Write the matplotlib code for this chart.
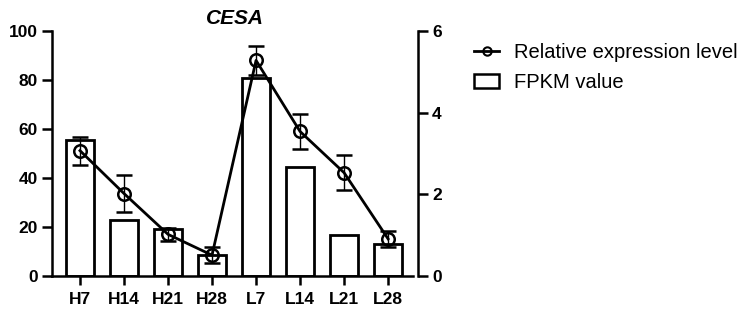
import matplotlib
matplotlib.use("Agg")
import matplotlib.pyplot as plt
from matplotlib.lines import Line2D
from matplotlib.patches import Patch
import numpy as np

plt.rcParams['font.family'] = ['Liberation Sans', 'DejaVu Sans']

categories = ["H7", "H14", "H21", "H28", "L7", "L14", "L21", "L28"]
fpkm = [55.6, 23.0, 19.2, 8.4, 80.8, 44.4, 16.9, 12.9]
rel_expr = [3.07, 2.02, 1.02, 0.51, 5.28, 3.54, 2.53, 0.91]
rel_err = [0.34, 0.46, 0.16, 0.20, 0.35, 0.43, 0.43, 0.20]
left_ticks = [0, 20, 40, 60, 80, 100]
right_ticks = [0, 2, 4, 6]

fig = plt.figure(figsize=(7.45, 3.11), dpi=100)
ax = fig.add_axes([52/745, 35/311, 366/745, 245/311])
x = np.arange(len(categories))
ax.bar(x, fpkm, width=0.65, facecolor='white', edgecolor='black', linewidth=2, zorder=2)
ax.set_xlim(-0.636, 7.68)
ax.set_ylim(0, 100)
ax.set_yticks(left_ticks)
ax.set_xticks(x)
ax.set_xticklabels(categories)
for lab in ax.get_xticklabels() + ax.get_yticklabels():
    lab.set_fontweight('bold')
    lab.set_fontsize(12.5)
ax.tick_params(axis='y', width=1.8, length=7, direction='out', pad=3)
ax.tick_params(axis='x', width=1.8, length=6.5, direction='out', pad=5)
ax.spines['top'].set_visible(False)
ax.spines['right'].set_visible(False)
ax.spines['left'].set_linewidth(1.8)
ax.spines['bottom'].set_linewidth(1.8)
ax.spines['bottom'].set_bounds(-0.636, 7.57)
ax.set_title("CESA", fontsize=15, fontweight='bold', fontstyle='italic', pad=5)

ax2 = ax.twinx()
ax2.errorbar(x, rel_expr, yerr=rel_err, color='black', linewidth=2, marker='o',
             markersize=9, markerfacecolor='none', markeredgewidth=1.8,
             ecolor='black', elinewidth=1, capsize=5.5, capthick=1, zorder=3)
ax2.set_ylim(0, 6)
ax2.set_yticks(right_ticks)
for lab in ax2.get_yticklabels():
    lab.set_fontweight('bold')
    lab.set_fontsize(12.5)
ax2.tick_params(axis='y', width=1.8, length=7, direction='out', pad=3)
ax2.spines['top'].set_visible(False)
ax2.spines['left'].set_visible(False)
ax2.spines['bottom'].set_visible(False)
ax2.spines['right'].set_linewidth(1.8)

handles = [Line2D([0], [0], color='black', linewidth=2, marker='o', markersize=6,
                  markerfacecolor='none', markeredgewidth=1.5),
           Patch(facecolor='white', edgecolor='black', linewidth=1.8)]
fig.legend(handles, ["Relative expression level", "FPKM value"],
           loc='upper left', bbox_to_anchor=(456/745, 1 - 25/311), frameon=False,
           fontsize=14.5, handlelength=1.25, handletextpad=0.75, labelspacing=0.55)

fig.savefig("out.png", dpi=100)
